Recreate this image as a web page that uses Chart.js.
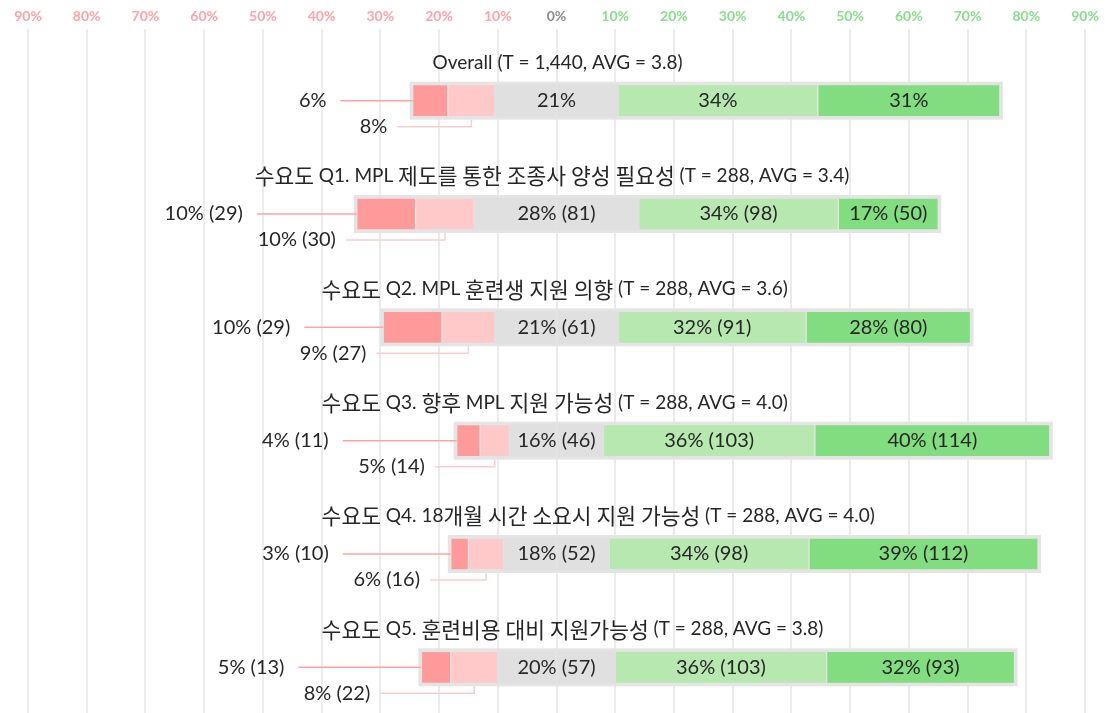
<!DOCTYPE html>
<html>
<head>
<meta charset="utf-8">
<script src="https://cdn.jsdelivr.net/npm/chart.js@4"></script>
<style>
  body { margin: 0; background: #fff; overflow: hidden; }
  #wrap { width: 1105px; height: 724px; }
</style>
</head>
<body>
<div id="wrap"><canvas id="chart"></canvas></div>
<script>
const categories = [
    'Overall (T = 1,440, AVG = 3.8)',
    '수요도 Q1. MPL 제도를 통한 조종사 양성 필요성 (T = 288, AVG = 3.4)',
    '수요도 Q2. MPL 훈련생 지원 의향 (T = 288, AVG = 3.6)',
    '수요도 Q3. 향후 MPL 지원 가능성 (T = 288, AVG = 4.0)',
    '수요도 Q4. 18개월 시간 소요시 지원 가능성 (T = 288, AVG = 4.0)',
    '수요도 Q5. 훈련비용 대비 지원가능성 (T = 288, AVG = 3.8)'
];

// percent per answer group
const strongNeg = [6, 10, 10, 4, 3, 5];
const neg       = [8, 10, 9, 5, 6, 8];
const neutral   = [21, 28, 21, 16, 18, 20];
const pos       = [34, 34, 32, 36, 34, 36];
const strongPos = [31, 17, 28, 40, 39, 32];

// respondent counts (overall row has none)
const strongNegN = [null, 29, 29, 11, 10, 13];
const negN       = [null, 30, 27, 14, 16, 22];
const neutralN   = [null, 81, 61, 46, 52, 57];
const posN       = [null, 98, 91, 103, 98, 103];
const strongPosN = [null, 50, 80, 114, 112, 93];

const tickValues = [-90, -80, -70, -60, -50, -40, -30, -20, -10, 0, 10, 20, 30, 40, 50, 60, 70, 80, 90];

const LATIN = 'Lato, "Noto Sans CJK KR", sans-serif';
const HANGUL = '"Noto Sans CJK KR", sans-serif';
const TEXT = '#262626';
const FRAME = '#e4e4e4';

// hand placement of the texts, like the original sheet
const titleStart = [-21.1, -51.4, -40, -40, -40, -40];   // left edge of each row title, in axis units
const darkGap = [86, 114, 93, 128, 122, 137];
const lightGap = [84, 109, 102, 70, 66, 104];

function label(p, n) {
    return n == null ? p + '%' : p + '% (' + n + ')';
}

// korean runs get a bigger face so they sit like the original's fallback font
function drawMixed(ctx, text, x, y) {
    const runs = text.split(/([\uAC00-\uD7A3]+)/).filter(s => s.length);
    const fontOf = s => /[\uAC00-\uD7A3]/.test(s) ? '21.5px ' + HANGUL : '19px ' + LATIN;
    ctx.textAlign = 'left';
    runs.forEach(s => {
        ctx.font = fontOf(s);
        ctx.fillText(s, x, y);
        x += ctx.measureText(s).width;
    });
}

const framePlugin = {
    id: 'frames',
    beforeDatasetsDraw(chart) {
        const ctx = chart.ctx;
        ctx.save();
        ctx.fillStyle = FRAME;
        categories.forEach((c, i) => {
            let l = Infinity, r = -Infinity, y = 0, h = 0;
            chart.data.datasets.forEach((ds, d) => {
                const el = chart.getDatasetMeta(d).data[i];
                l = Math.min(l, el.x, el.base);
                r = Math.max(r, el.x, el.base);
                y = el.y; h = el.height;
            });
            ctx.fillRect(l - 3, y - h / 2 - 3, r - l + 6, h + 6);
        });
        ctx.restore();
    }
};

const labelPlugin = {
    id: 'labels',
    afterDatasetsDraw(chart) {
        const ctx = chart.ctx;
        const xs = chart.scales.x;
        const x0 = xs.getPixelForValue(0);
        ctx.save();
        ctx.fillStyle = TEXT;
        ctx.textBaseline = 'middle';
        categories.forEach((c, i) => {
            const meta = d => chart.getDatasetMeta(d).data[i];
            const y = meta(0).y;
            const h = meta(0).height;

            drawMixed(ctx, c, xs.getPixelForValue(titleStart[i]), y - 38);

            ctx.font = '20px ' + LATIN;
            ctx.textAlign = 'center';
            ctx.fillText(label(neutral[i], neutralN[i]), x0, y);
            const lg = meta(4), dg = meta(5);
            ctx.fillText(label(pos[i], posN[i]), (lg.x + lg.base) / 2, y);
            ctx.fillText(label(strongPos[i], strongPosN[i]), (dg.x + dg.base) / 2, y);

            // dark red: label left of the bar with a leader
            const dr = meta(2);
            const drLeft = Math.min(dr.x, dr.base);
            const tx = drLeft - darkGap[i];
            ctx.textAlign = 'right';
            ctx.fillText(label(strongNeg[i], strongNegN[i]), tx, y);
            ctx.strokeStyle = '#ffa3a3';
            ctx.lineWidth = 1.5;
            ctx.beginPath();
            ctx.moveTo(tx + 14, y);
            ctx.lineTo(drLeft, y);
            ctx.stroke();

            // light red: label below with an elbow leader
            const lr = meta(1);
            const mid = (lr.x + lr.base) / 2;
            const yl = y + 26;
            const tl = mid - lightGap[i];
            ctx.fillText(label(neg[i], negN[i]), tl, yl);
            ctx.strokeStyle = '#ffcccc';
            ctx.beginPath();
            ctx.moveTo(tl + 10, yl);
            ctx.lineTo(mid, yl);
            ctx.lineTo(mid, y + h / 2 + 3);
            ctx.stroke();
        });
        ctx.restore();
    }
};

function ds(data, color, border) {
    return {
        data: data,
        backgroundColor: color,
        borderColor: FRAME,
        borderWidth: border,
        borderSkipped: false,
        barThickness: 32,
        clip: false
    };
}

new Chart(document.getElementById('chart'), {
    type: 'bar',
    data: {
        labels: categories,
        datasets: [
            ds(neutral.map(v => -v / 2), '#e0e0e0', 0),
            ds(neg.map(v => -v), '#ffc9c9', 1),
            ds(strongNeg.map(v => -v), '#ff9a9a', 1),
            ds(neutral.map(v => v / 2), '#e0e0e0', 0),
            ds(pos, '#b6e8b0', 1),
            ds(strongPos, '#82dc80', 1)
        ]
    },
    options: {
        indexAxis: 'y',
        responsive: true,
        maintainAspectRatio: false,
        animation: false,
        layout: { padding: { left: 28, right: 20, top: 0, bottom: 0 } },
        plugins: {
            legend: { display: false },
            tooltip: { enabled: false }
        },
        scales: {
            x: {
                position: 'top',
                stacked: true,
                min: -90,
                max: 90,
                afterBuildTicks: s => { s.ticks = tickValues.map(v => ({ value: v })); },
                afterFit: s => { s.height = 44; },
                border: { display: false },
                grid: { color: '#ebebeb', lineWidth: 2, tickLength: 15 },
                ticks: {
                    padding: 4,
                    font: { family: LATIN, size: 14, weight: 'bold' },
                    color: c => c.tick.value < 0 ? '#ffa3a3' : (c.tick.value > 0 ? '#8ade8a' : '#8c8c8c'),
                    callback: v => Math.abs(v) + '%'
                }
            },
            y: {
                stacked: true,
                display: false
            }
        }
    },
    plugins: [framePlugin, labelPlugin]
});
</script>
</body>
</html>
